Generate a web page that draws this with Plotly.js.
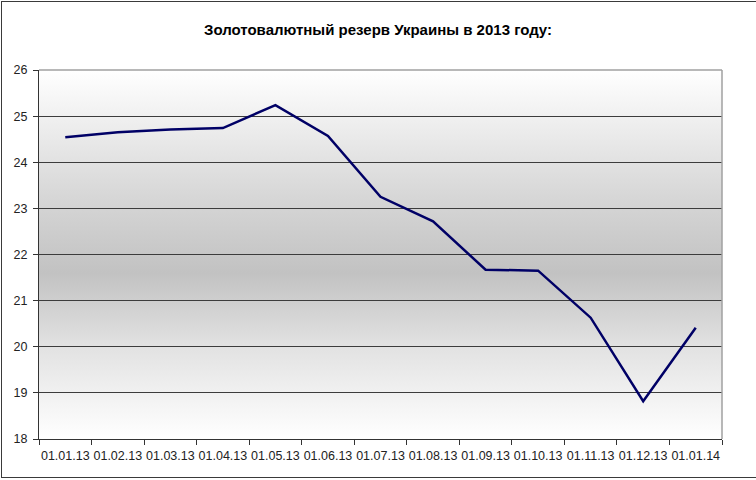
<!DOCTYPE html>
<html>
<head>
<meta charset="utf-8">
<script src="https://cdn.plot.ly/plotly-3.0.1.min.js"></script>
<style>
  html, body { margin:0; padding:0; background:#fff; }
  #wrap { position:relative; width:756px; height:480px; overflow:hidden; }
  #bg { position:absolute; left:39px; top:70px; width:683px; height:369px;
        background:linear-gradient(to bottom, #ffffff 0%, #d6d6d6 35%, #c2c2c2 55%, #e2e2e2 75%, #ffffff 100%); }
  #frame { position:absolute; left:1px; top:1px; width:800px; height:475px;
           border:1px solid #3a3a3a; box-sizing:content-box; }
  #chart { position:absolute; left:0; top:0; width:756px; height:480px; }
</style>
</head>
<body>
<div id="wrap">
  <div id="bg"></div>
  <div id="frame"></div>
  <div id="chart"></div>
</div>
<script>
const titleText = "Золотовалютный резерв Украины в 2013 году:";
const dates = ["01.01.13","01.02.13","01.03.13","01.04.13","01.05.13","01.06.13","01.07.13",
               "01.08.13","01.09.13","01.10.13","01.11.13","01.12.13","01.01.14"];
const reserves = [24.54, 24.65, 24.71, 24.74, 25.24, 24.57, 23.25, 22.72, 21.67, 21.65, 20.63, 18.82, 20.41];
const yTicks = [18, 19, 20, 21, 22, 23, 24, 25, 26];

const trace = {
  x: dates,
  y: reserves,
  type: "scatter",
  mode: "lines",
  line: { color: "#000066", width: 2.5 },
  hoverinfo: "x+y"
};

const layout = {
  width: 756,
  height: 480,
  margin: { l: 39, r: 34, t: 70, b: 41, pad: 0 },
  paper_bgcolor: "rgba(0,0,0,0)",
  plot_bgcolor: "rgba(0,0,0,0)",
  showlegend: false,
  font: { family: "Arial, 'Liberation Sans', sans-serif", size: 12, color: "#222" },
  title: {
    text: "<b>" + titleText + "</b>",
    font: { family: "Arial, 'Liberation Sans', sans-serif", size: 15, color: "#000" },
    x: 0.5, xanchor: "center",
    y: 1 - 30 / 480, yanchor: "middle", yref: "container"
  },
  xaxis: {
    type: "category",
    range: [-0.5, dates.length - 0.5],
    tickson: "boundaries",
    ticks: "outside",
    ticklen: 5,
    tickcolor: "#333",
    tickangle: 0,
    ticklabelstandoff: 5,
    showline: true,
    linecolor: "#333",
    linewidth: 1,
    showgrid: false,
    tickfont: { size: 12.5, color: "#222" },
    fixedrange: true
  },
  yaxis: {
    range: [18, 26],
    tickvals: yTicks,
    ticks: "outside",
    ticklen: 5,
    tickcolor: "#333",
    ticklabelstandoff: 3,
    showline: true,
    linecolor: "#333",
    linewidth: 1,
    showgrid: true,
    gridcolor: "#3c3c3c",
    gridwidth: 1,
    zeroline: false,
    tickfont: { size: 12.5, color: "#222" },
    fixedrange: true
  },
  shapes: [
    { type: "line", xref: "paper", yref: "paper", x0: 0, x1: 1, y0: 1, y1: 1,
      line: { color: "#a0a0a0", width: 1.5 }, layer: "above" },
    { type: "line", xref: "paper", yref: "paper", x0: 1, x1: 1, y0: 0, y1: 1,
      line: { color: "#a0a0a0", width: 1.5 }, layer: "above" }
  ]
};

Plotly.newPlot("chart", [trace], layout, { displayModeBar: false, staticPlot: true });
</script>
</body>
</html>
